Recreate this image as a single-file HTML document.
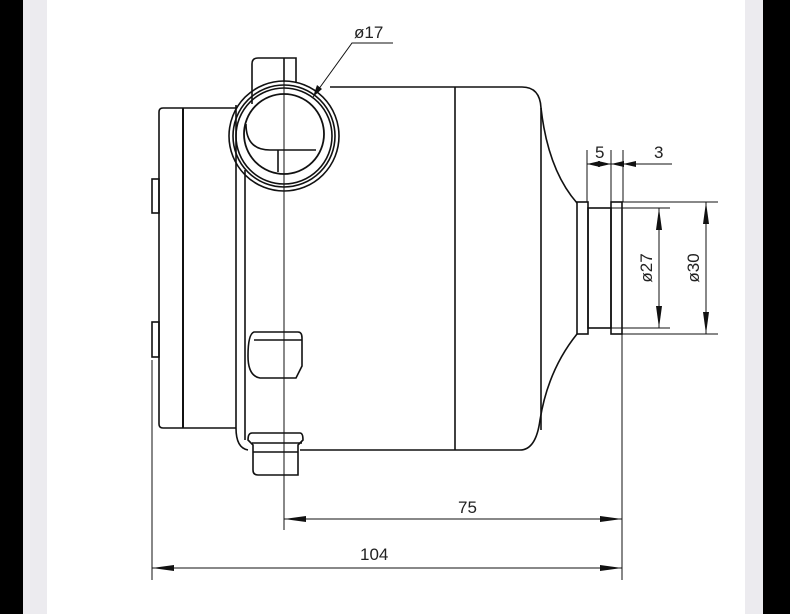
<!DOCTYPE html>
<html><head><style>
body{margin:0;width:790px;height:614px;overflow:hidden;background:#fff}
svg{display:block}
text{font-family:"Liberation Sans",sans-serif;fill:#222;font-size:17px}
</style></head><body>
<svg width="790" height="614" viewBox="0 0 790 614">
<rect x="0" y="0" width="23" height="614" fill="#000"/>
<rect x="23" y="0" width="24" height="614" fill="#ecebef"/>
<rect x="745" y="0" width="18" height="614" fill="#ecebef"/>
<rect x="763" y="0" width="27" height="614" fill="#000"/>
<g fill="none" stroke="#111" stroke-width="1.6">
<!-- left flange -->
<path d="M236 108 H163 Q159 108 159 112 V424 Q159 428 163 428 H236"/>
<line x1="183" y1="108" x2="183" y2="428" stroke-width="2"/>
<rect x="152" y="179" width="7" height="34"/>
<rect x="152" y="322" width="7" height="35"/>
<!-- plate -->
<path d="M236 105 V428 Q236 448 248 450"/>
<line x1="245" y1="170" x2="245" y2="440"/>
<!-- body -->
<path d="M330 87 H522 Q540 87 541 108 Q548 170 577 203"/>
<path d="M577 334 Q548 370 540 420 Q536 450 520 450 H300"/>
<line x1="455" y1="87" x2="455" y2="450"/>
<line x1="541" y1="108" x2="541" y2="430"/>
<!-- outlet -->
<rect x="577" y="202" width="11" height="132"/>
<rect x="588" y="208" width="23" height="120"/>
<rect x="611" y="202" width="11" height="132"/>
<!-- top tab -->
<path d="M252 104 V64 Q252 58 258 58 H296 V82"/>
<line x1="284" y1="58" x2="284" y2="82"/>
<!-- pipe circle -->
<circle cx="284" cy="136" r="55"/>
<circle cx="284" cy="136" r="51"/>
<circle cx="284" cy="136" r="48"/>
<circle cx="284" cy="134" r="40" stroke-width="1.8"/>
<path d="M246 124 Q246 150 270 150 H316"/>
<line x1="278" y1="150" x2="278" y2="172"/>
<!-- bosses -->
<path d="M254 332 H298 Q302 332 302 338 V366 L296 378 H260 Q248 376 248 356 Q248 334 254 332 Z"/>
<line x1="254" y1="340" x2="302" y2="340"/>
<path d="M252 433 H300 Q303 433 303 440 L298 445 V475 H258 Q253 475 253 470 V445 L248 440 Q248 433 252 433 Z"/>
<line x1="252" y1="443" x2="302" y2="443"/>
<line x1="253" y1="452" x2="298" y2="452"/>
</g>
<g fill="none" stroke="#111" stroke-width="1">
<line x1="284" y1="58" x2="284" y2="530"/>
<line x1="152" y1="360" x2="152" y2="580"/>
<line x1="622" y1="334" x2="622" y2="580"/>
<line x1="284" y1="519" x2="622" y2="519"/>
<line x1="152" y1="568" x2="622" y2="568"/>
<!-- phi17 leader -->
<polyline points="313,97 352,43 393,43"/>
<!-- 5 / 3 -->
<line x1="587" y1="150" x2="587" y2="202"/>
<line x1="611" y1="150" x2="611" y2="202"/>
<line x1="623" y1="150" x2="623" y2="202"/>
<line x1="587" y1="164" x2="672" y2="164"/>
<!-- phi27 / phi30 -->
<line x1="611" y1="208" x2="670" y2="208"/>
<line x1="611" y1="328" x2="670" y2="328"/>
<line x1="622" y1="202" x2="718" y2="202"/>
<line x1="622" y1="334" x2="718" y2="334"/>
<line x1="659" y1="208" x2="659" y2="328"/>
<line x1="706" y1="202" x2="706" y2="334"/>
</g>
<g fill="#111">
<polygon points="284,519 306,516 306,522"/>
<polygon points="622,519 600,516 600,522"/>
<polygon points="152,568 174,565 174,571"/>
<polygon points="622,568 600,565 600,571"/>
<polygon points="313,97 317,85 322,89"/>
<polygon points="587,164 600,161 600,167"/>
<polygon points="611,164 598,161 598,167"/>
<polygon points="611,164 624,161 624,167"/>
<polygon points="623,164 636,161 636,167"/>
<polygon points="659,208 656,230 662,230"/>
<polygon points="659,328 656,306 662,306"/>
<polygon points="706,202 703,224 709,224"/>
<polygon points="706,334 703,312 709,312"/>
</g>
<text x="354" y="38">ø17</text>
<text x="595" y="158">5</text>
<text x="654" y="158">3</text>
<text x="458" y="513">75</text>
<text x="360" y="560">104</text>
<text transform="translate(652,268) rotate(-90)" text-anchor="middle">ø27</text>
<text transform="translate(699,268) rotate(-90)" text-anchor="middle">ø30</text>
</svg>
</body></html>
